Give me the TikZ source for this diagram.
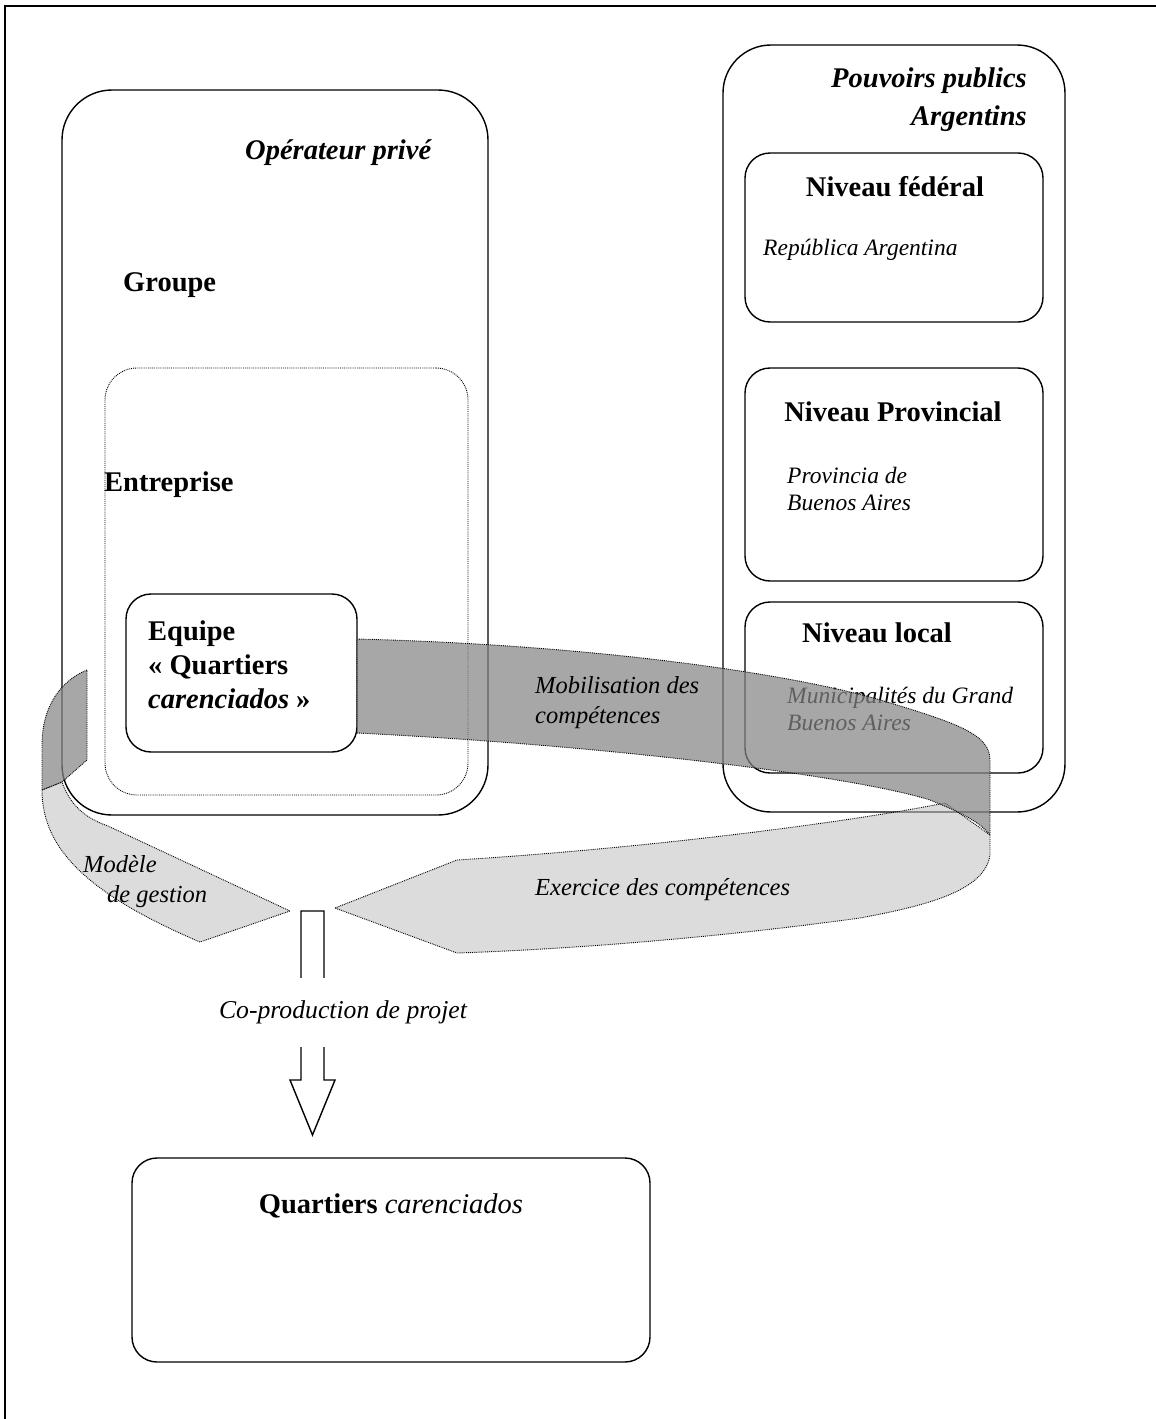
\documentclass[tikz,border=0pt]{standalone}
\usepackage{fontspec}
\setmainfont{Liberation Serif}
\usetikzlibrary{positioning}
\definecolor{bandDark}{RGB}{133,133,133}
\definecolor{bandLight}{RGB}{185,185,185}

\begin{document}
\begin{tikzpicture}[x=1pt, y=-1pt,
  lblBold/.style={font=\bfseries\fontsize{28.5}{34}\selectfont, inner sep=0pt, align=left},
  lblBoldIt/.style={font=\bfseries\itshape\fontsize{28.5}{38}\selectfont, inner sep=0pt},
  lblSub/.style={font=\itshape\fontsize{23.5}{26.5}\selectfont, inner sep=0pt, align=left},
  lblRib/.style={font=\itshape\fontsize{24.5}{30}\selectfont, inner sep=0pt, align=left},
  lvlbox/.style={draw, line width=1.4pt, rounded corners=25pt, inner sep=0pt, outer sep=0pt},
  bigbox/.style={lvlbox, rounded corners=50pt},
  dotbox/.style={lvlbox, line width=0.9pt, densely dotted, rounded corners=32pt},
  darkband/.style={draw=black, densely dotted, line width=0.9pt, fill=bandDark, fill opacity=0.72},
  lightband/.style={draw=black, densely dotted, line width=0.9pt, fill=bandLight, fill opacity=0.5}
]
\useasboundingbox (0,0) rectangle (1156,1419);
\draw[line width=2.2pt] (5,1419) -- (5,6) -- (1156,6);

% private operator side
\node[bigbox, minimum width=426pt, minimum height=725pt] (prive) at (275,452.5) {};
\node[dotbox, minimum width=363pt, minimum height=427pt] (entreprise) at (286.5,581.5) {};
\node[lvlbox, minimum width=231pt, minimum height=158pt] (equipe) at (241.5,673) {};
\node[lblBoldIt, anchor=west] (priveLbl) at (245,153) {Opérateur privé};
\node[lblBold, anchor=west] (groupeLbl) at (123,285) {Groupe};
\node[lblBold, anchor=west] (entLbl) at (104,485) {Entreprise};
\node[lblBold, anchor=west] (equipeLbl) at (148,665) {Equipe\\« Quartiers\\\textit{carenciados} »};

% public authorities side
\node[bigbox, rounded corners=48pt, minimum width=342pt, minimum height=767pt] (publics) at (894,428.5) {};
\node[lvlbox, minimum width=298pt, minimum height=169pt] (federal) at (894,237.5) {};
\node[lvlbox, minimum width=298pt, minimum height=213pt] (provincial) at (894,474.5) {};
\node[lvlbox, minimum width=298pt, minimum height=171pt] (local) at (894,687.5) {};
\node[lblBoldIt, anchor=east, align=right] (publicsLbl) at (1027,100) {Pouvoirs publics\\Argentins};
\node[lblBold] (fedLbl) at (895,187) {Niveau fédéral};
\node[lblSub, anchor=west] (fedSub) at (763,250) {República Argentina};
\node[lblBold] (provLbl) at (893,412) {Niveau Provincial};
\node[lblSub, anchor=west] (provSub) at (787,489) {Provincia de\\Buenos Aires};
\node[lblBold, anchor=west] (locLbl) at (802,633) {Niveau local};
\node[lblSub, anchor=west] (locSub) at (787,709) {Municipalités du Grand\\Buenos Aires};

% target
\node[lvlbox, minimum width=518pt, minimum height=204pt] (quartiers) at (391,1260) {};
\node[lblBold] (quartiersLbl) at (391,1206) {Quartiers \textit{\mdseries carenciados}};

% ribbons
\draw[lightband] (335,908) -- (457,860) .. controls (650,848) and (850,822) .. (945,803)
  -- (990,835) -- (990,855) .. controls (985,890) and (930,905) .. (860,918)
  .. controls (700,940) and (550,950) .. (457,953) -- cycle;
\draw[lightband] (42,790) -- (62,782) .. controls (70,805) and (85,818) .. (108,826)
  -- (290,911) -- (200,942) .. controls (90,895) and (42,850) .. cycle;
\draw[darkband] (equipe.east |- 0,639) .. controls (600,645) and (800,675) .. (887,702)
  .. controls (960,724) and (990,735) .. (990,760) -- (990,835)
  .. controls (980,822) and (960,812) .. (930,800)
  .. controls (850,775) and (600,745) .. (equipe.east |- 0,733) -- cycle;
\draw[darkband] (87,670) .. controls (62,680) and (42,705) .. (42,745)
  -- (42,790) -- (62,782) -- (87,760) -- cycle;
\node[lblRib, anchor=west] (mobLbl) at (535,703) {Mobilisation des\\compétences};
\node[lblRib, anchor=west] (excLbl) at (535,890) {Exercice des compétences};
\node[lblRib, anchor=west] (modLbl) at (83,882) {Modèle\\\hspace*{24pt}de gestion};

% co-production arrow
\coordinate (shaftTop) at (312.5,911);
\coordinate (headBase) at (312.5,1080);
\coordinate (tip) at (312.5,1135);
\draw[line width=1.4pt, fill=white] ([xshift=-11.5pt]shaftTop) -- ([xshift=11.5pt]shaftTop)
  -- ([xshift=11.5pt]headBase) -- ([xshift=22.5pt]headBase) -- (tip)
  -- ([xshift=-22.5pt]headBase) -- ([xshift=-11.5pt]headBase) -- cycle;
\node[font=\itshape\fontsize{25.7}{30}\selectfont, fill=white, inner sep=0pt,
  minimum height=69pt] (coprod) at (343,1012) {Co-production de projet};
\end{tikzpicture}
\end{document}
